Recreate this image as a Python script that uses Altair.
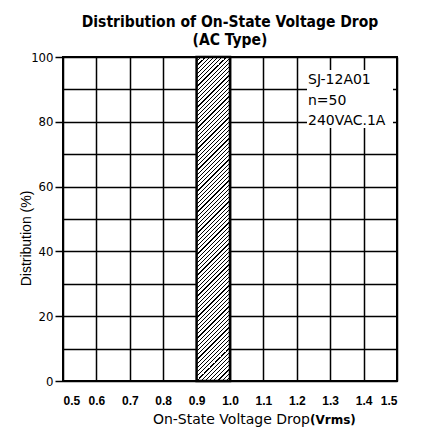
import altair as alt
import pandas as pd

# ---- data ----
x_ticks = [0.5, 0.6, 0.7, 0.8, 0.9, 1.0, 1.1, 1.2, 1.3, 1.4, 1.5]
y_ticks = [0, 10, 20, 30, 40, 50, 60, 70, 80, 90, 100]
bin_start = [0.9]
bin_end = [1.0]
distribution = [100]
legend_lines = ["SJ-12A01", "n=50", "240VAC.1A"]
title_lines = ["Distribution of On-State Voltage Drop", "(AC Type)"]
x_title = "On-State Voltage Drop"
x_unit = "(Vrms)"
y_title = "Distribution (%)"

W, H = 334, 324

bars = pd.DataFrame({"start": bin_start, "end": bin_end,
                     "lo": [0] * len(distribution), "hi": distribution})

# hatch pattern via a striped linear gradient (style only)
bar_w = W * 0.1
k = (bar_w + H) / (bar_w ** 2 + H ** 2)
period = 4.2 / (bar_w + H)
stops = []
t = 0.0
while t < 1.0:
    stops.append(alt.GradientStop(color="black", offset=min(t, 1.0)))
    stops.append(alt.GradientStop(color="black", offset=min(t + period * 0.28, 1.0)))
    stops.append(alt.GradientStop(color="white", offset=min(t + period * 0.28, 1.0)))
    stops.append(alt.GradientStop(color="white", offset=min(t + period, 1.0)))
    t += period
hatch = alt.LinearGradient(gradient="linear", stops=stops,
                           x1=0, y1=0, x2=bar_w * k, y2=H * k)

font = "Liberation Sans"
narrow = "'Liberation Sans Narrow', 'DejaVu Sans Condensed', 'Arial Narrow', 'Roboto Condensed', Roboto, sans-serif"

bar = alt.Chart(bars).mark_rect(fill=hatch, stroke="black", strokeWidth=2.5).encode(
    x=alt.X("start:Q",
            scale=alt.Scale(domain=[0.5, 1.5], nice=False, zero=False),
            axis=alt.Axis(values=x_ticks, format=".1f", grid=True, gridColor="black",
                          gridWidth=1.5, gridOpacity=1, ticks=False, domain=False,
                          labelPadding=14, labelFontSize=12, labelColor="black",
                          labelFont=font, labelFontWeight="bold", title=None)),
    x2="end:Q",
    y=alt.Y("lo:Q",
            scale=alt.Scale(domain=[0, 100], nice=False),
            axis=alt.Axis(values=y_ticks, grid=True, gridColor="black", gridWidth=1.5,
                          gridOpacity=1, domain=False,
                          labelExpr="datum.value % 20 == 0 ? datum.label : ''",
                          tickColor="black", tickSize=8, tickWidth=1.5,
                          tickOpacity={"condition": {"test": "datum.value % 20 == 0", "value": 1}, "value": 0},
                          labelPadding=2, labelFontSize=13, labelColor="black",
                          labelFont=narrow, labelFontWeight="normal",
                          title=y_title, titleFont=font, titleFontSize=14,
                          titleFontWeight="normal", titleColor="black",
                          titleX=-37, titleY=181, titleBaseline="middle", titleAngle=270)),
    y2="hi:Q",
)

one = pd.DataFrame({"a": [0]})

box = alt.Chart(one).mark_rect(fill="white").encode(
    x=alt.value(244), x2=alt.value(330), y=alt.value(13), y2=alt.value(71))

legend = alt.Chart(pd.DataFrame({"t": ["\n".join(legend_lines)]})).mark_text(
    align="left", baseline="middle", fontSize=14, font="DejaVu Sans",
    lineBreak="\n", lineHeight=20.5, color="black").encode(
    x=alt.value(245), y=alt.value(23), text="t:N")

xt1 = alt.Chart(pd.DataFrame({"t": [x_title]})).mark_text(
    align="right", baseline="middle", fontSize=14, font="DejaVu Sans", color="black").encode(
    x=alt.value(247), y=alt.value(363), text="t:N")

xt2 = alt.Chart(pd.DataFrame({"t": [x_unit]})).mark_text(
    align="left", baseline="middle", fontSize=12, font="DejaVu Sans", fontWeight="bold",
    color="black").encode(
    x=alt.value(247), y=alt.value(363), text="t:N")

chart = alt.layer(bar, box, legend, xt1, xt2).properties(
    width=W, height=H,
    title=alt.TitleParams(text=title_lines, font=narrow, fontSize=15.5, fontWeight="bold",
                          anchor="middle", lineHeight=18, offset=3, color="black"),
    autosize=alt.AutoSizeParams(type="none"),
    padding={"left": 55, "top": 49, "right": 5, "bottom": 48},
).configure_view(stroke="black", strokeWidth=2)

chart.save("out.html", embed_options={"renderer": "svg", "actions": False})
